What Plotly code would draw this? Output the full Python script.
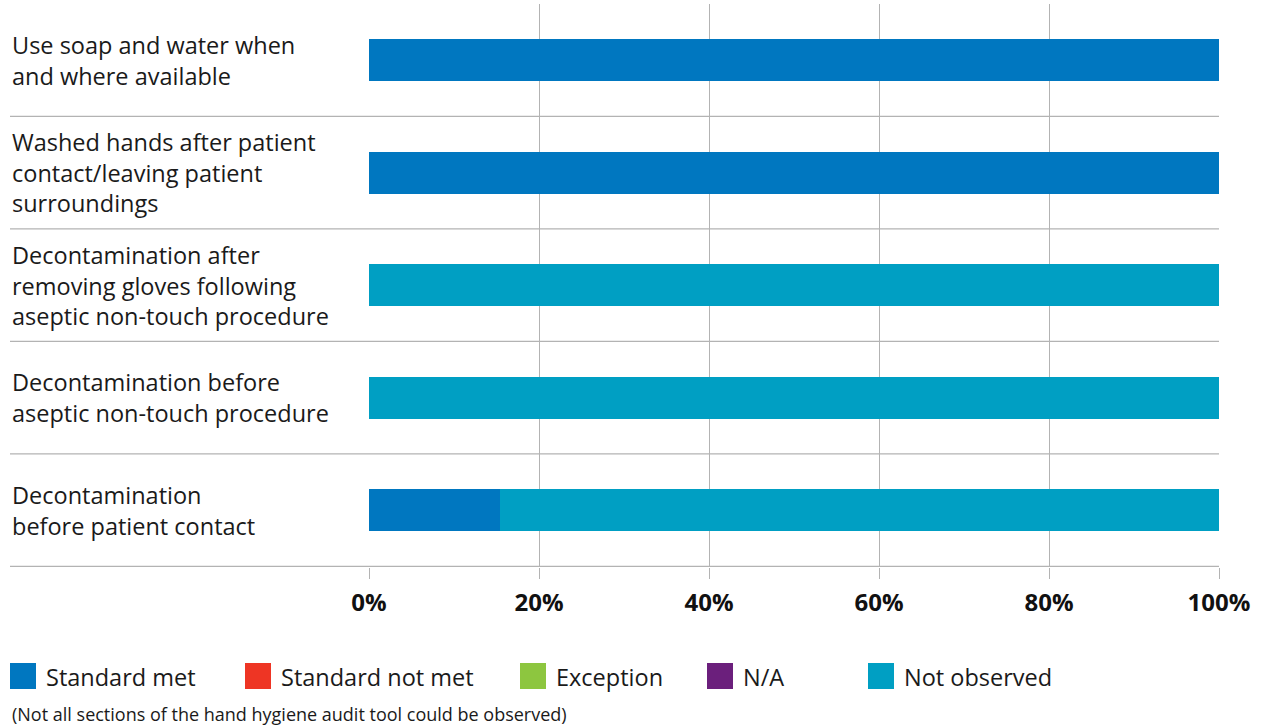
import plotly.graph_objects as go

# Audit criteria, top to bottom
criteria = [
    "Use soap and water when<br>and where available",
    "Washed hands after patient<br>contact/leaving patient<br>surroundings",
    "Decontamination after<br>removing gloves following<br>aseptic non-touch procedure",
    "Decontamination before<br>aseptic non-touch procedure",
    "Decontamination<br>before patient contact",
]
row_ids = ["c1", "c2", "c3", "c4", "c5"]

# Percentage of observations per outcome, one value per criterion
series_names = ["Standard met", "Standard not met", "Exception", "N/A", "Not observed"]
standard_met = [100, 100, 0, 0, 15.4]
standard_not_met = [0, 0, 0, 0, 0]
exception = [0, 0, 0, 0, 0]
not_applicable = [0, 0, 0, 0, 0]
not_observed = [0, 0, 100, 100, 84.6]
series_colors = ["#0077c0", "#ee3524", "#8dc63f", "#6b1f7c", "#009fc3"]

x_ticks = [0, 20, 40, 60, 80, 100]
x_tick_labels = [f"{v}%" for v in x_ticks]
footnote = "(Not all sections of the hand hygiene audit tool could be observed)"

W, H = 1263, 726
M_L, M_R, M_T, M_B = 369, 44, 4, 159
plot_w = W - M_L - M_R
plot_h = H - M_T - M_B
plot_bottom = H - M_B
GRID = "#b3b3b3"
FONT = "Open Sans"
TEXT = "#1a1a1a"


def px_to_xpaper(px):
    return (px - M_L) / plot_w


def px_to_ypaper(py):
    return (plot_bottom - py) / plot_h


fig = go.Figure()
for name, vals, col in zip(series_names,
                           [standard_met, standard_not_met, exception, not_applicable, not_observed],
                           series_colors):
    fig.add_trace(go.Bar(
        y=row_ids, x=vals, name=name, orientation="h",
        marker=dict(color=col, line=dict(width=0)),
        showlegend=False,
    ))

# Row labels, left aligned at the chart edge
label_x = px_to_xpaper(10)
for rid, text in zip(row_ids, criteria):
    fig.add_annotation(
        x=label_x, xref="paper", y=rid, yref="y",
        text=text, showarrow=False, xanchor="left", yanchor="middle",
        align="left", font=dict(family=FONT, size=23.5, color=TEXT),
    )

# Row separators spanning label column and plot
for i in range(len(row_ids)):
    fig.add_shape(
        type="line", xref="paper", yref="y",
        x0=label_x, x1=1, y0=i + 0.5, y1=i + 0.5,
        line=dict(color=GRID, width=1.3), layer="below",
    )

# Legend drawn as swatches with text
legend_x = [10, 245, 520, 707, 868]
for name, col, lx in zip(series_names, series_colors, legend_x):
    fig.add_shape(
        type="rect", xref="paper", yref="paper",
        x0=px_to_xpaper(lx), x1=px_to_xpaper(lx + 26),
        y0=px_to_ypaper(689), y1=px_to_ypaper(663),
        fillcolor=col, line=dict(width=0),
    )
    fig.add_annotation(
        x=px_to_xpaper(lx + 34), xref="paper",
        y=px_to_ypaper(677), yref="paper",
        text=name, showarrow=False, xanchor="left", yanchor="middle",
        font=dict(family=FONT, size=23.5, color=TEXT),
    )

fig.add_annotation(
    x=label_x, xref="paper", y=px_to_ypaper(714), yref="paper",
    text=footnote, showarrow=False, xanchor="left", yanchor="middle",
    font=dict(family=FONT, size=18, color=TEXT),
)

fig.update_layout(
    barmode="stack",
    bargap=0.627,
    width=W, height=H,
    margin=dict(l=M_L, r=M_R, t=M_T, b=M_B),
    paper_bgcolor="white", plot_bgcolor="white",
    showlegend=False,
    xaxis=dict(
        range=[0, 100], tickmode="array", tickvals=x_ticks, ticktext=x_tick_labels,
        showgrid=True, gridcolor=GRID, gridwidth=1.3,
        zeroline=False, showline=False,
        ticks="outside", ticklen=11, tickcolor=GRID, tickwidth=1.3,
        tickfont=dict(family=FONT, size=24, color="#111111", weight="bold"),
        ticklabelstandoff=3,
    ),
    yaxis=dict(
        categoryorder="array", categoryarray=row_ids,
        autorange="reversed",
        showgrid=False, zeroline=False, showticklabels=False, ticks="",
    ),
)
fig.write_html("out.html")
